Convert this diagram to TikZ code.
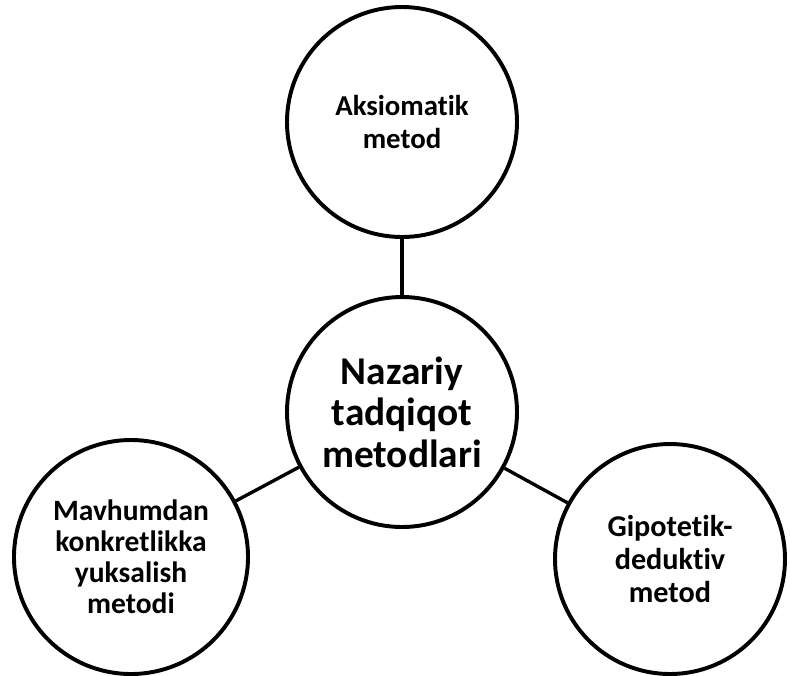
\documentclass[tikz,border=0pt]{standalone}
\usepackage{fontspec}
\setmainfont{Carlito}[Ligatures=NoCommon]
\usepackage{tikz}

\begin{document}
\begin{tikzpicture}[scale=1,
  metod/.style={draw,circle,line width=2.8pt,minimum size=5.75cm,inner sep=0pt,align=center,font=\bfseries},
  link/.style={line width=2.4pt}]
\useasboundingbox (0,0) rectangle (19.75,-16.875);
\node[metod,font=\bfseries\fontsize{28}{29.5}\selectfont] (markaz) at (10.05,-10.3) {Nazariy\\tadqiqot\\metodlari};
\node[metod,font=\bfseries\fontsize{20.5}{23}\selectfont] (aks) at (10.05,-3.05) {Aksiomatik\\metod};
\node[metod,minimum size=5.85cm,font=\bfseries\fontsize{21}{22}\selectfont] (mav) at (3.275,-13.925) {Mavhumdan\\konkretlikka\\yuksalish\\metodi};
\node[metod,font=\bfseries\fontsize{21.5}{23.5}\selectfont] (gip) at (16.75,-13.975) {Gipotetik-\\deduktiv\\metod};
\foreach \a in {aks,mav,gip}
  \draw[link] (markaz) -- (\a);
\end{tikzpicture}
\end{document}
